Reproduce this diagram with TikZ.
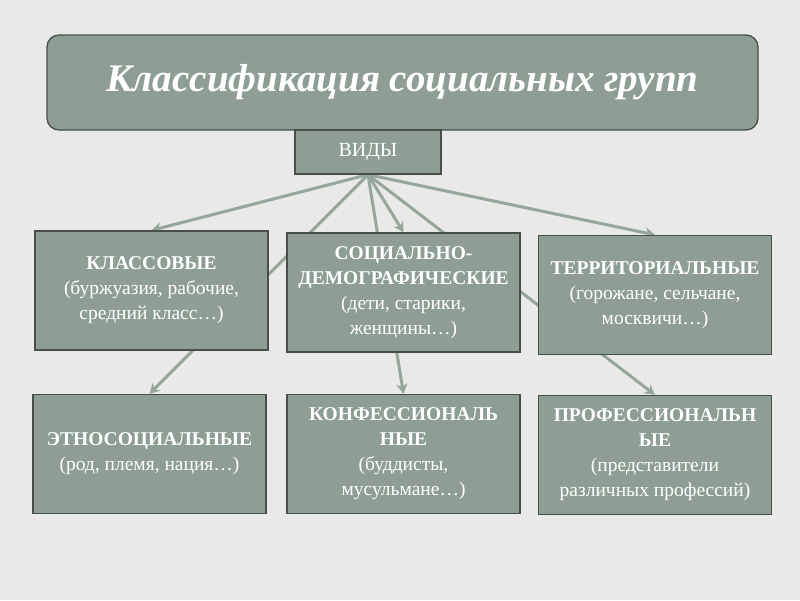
\documentclass[tikz,border=0pt]{standalone}
\usepackage{fontspec}
\setmainfont{Liberation Serif}
\usetikzlibrary{arrows.meta, positioning}
\definecolor{boxgray}{RGB}{142,158,148}
\definecolor{linegray}{RGB}{150,166,156}
\definecolor{pagegray}{RGB}{233,233,231}
\definecolor{edgegray}{RGB}{72,78,74}
\pgfdeclarelayer{bg}
\pgfsetlayers{bg,main}

\begin{document}
\begin{tikzpicture}[x=1pt, y=-1pt,
    groupbox/.style={draw=edgegray, line width=1.3pt, fill=boxgray, text=white, align=center,
        minimum width=233pt, minimum height=119pt, inner sep=2pt, font=\fontsize{19.5}{25}\selectfont},
    titlebox/.style={draw=edgegray, line width=1.3pt, fill=boxgray, text=white, rounded corners=12pt,
        minimum width=711pt, minimum height=95pt, font=\fontsize{39}{44}\selectfont\bfseries\itshape},
    kindbox/.style={draw=edgegray, line width=1.3pt, fill=boxgray, text=white,
        minimum width=146pt, minimum height=44pt, font=\fontsize{20}{22}\selectfont},
    link/.style={draw=linegray, line width=3pt, -{Stealth[length=10pt, width=11pt, inset=3pt]}}
]

% Title
\node[titlebox] (title) at (402.5, 82.5) {Классификация социальных групп};
\node[kindbox] (vidy) at (368, 152) {ВИДЫ};

% Top row
\node[groupbox] (klass) at (151.5, 290.5) {\textbf{КЛАССОВЫЕ}\\(буржуазия, рабочие,\\средний класс…)};
\node[groupbox] (soc) at (403.5, 292.5) {\textbf{СОЦИАЛЬНО-}\\\textbf{ДЕМОГРАФИЧЕСКИЕ}\\(дети, старики,\\женщины…)};
\node[groupbox] (terr) at (655, 295) {\textbf{ТЕРРИТОРИАЛЬНЫЕ}\\(горожане, сельчане,\\москвичи…)};

% Bottom row
\node[groupbox] (ethno) at (149.5, 454) {\textbf{ЭТНОСОЦИАЛЬНЫЕ}\\(род, племя, нация…)};
\node[groupbox] (conf) at (403.5, 454) {\textbf{КОНФЕССИОНАЛЬ}\\\textbf{НЫЕ}\\(буддисты,\\мусульмане…)};
\node[groupbox] (prof) at (655, 455) {\textbf{ПРОФЕССИОНАЛЬН}\\\textbf{ЫЕ}\\(представители\\различных профессий)};

% Links behind the boxes
\begin{pgfonlayer}{bg}
    \fill[pagegray] (0,0) rectangle (800,600);
    \foreach \g in {klass, soc, terr, ethno, conf, prof}
        \draw[link] (vidy.south) -- (\g.north);
\end{pgfonlayer}
\end{tikzpicture}
\end{document}
